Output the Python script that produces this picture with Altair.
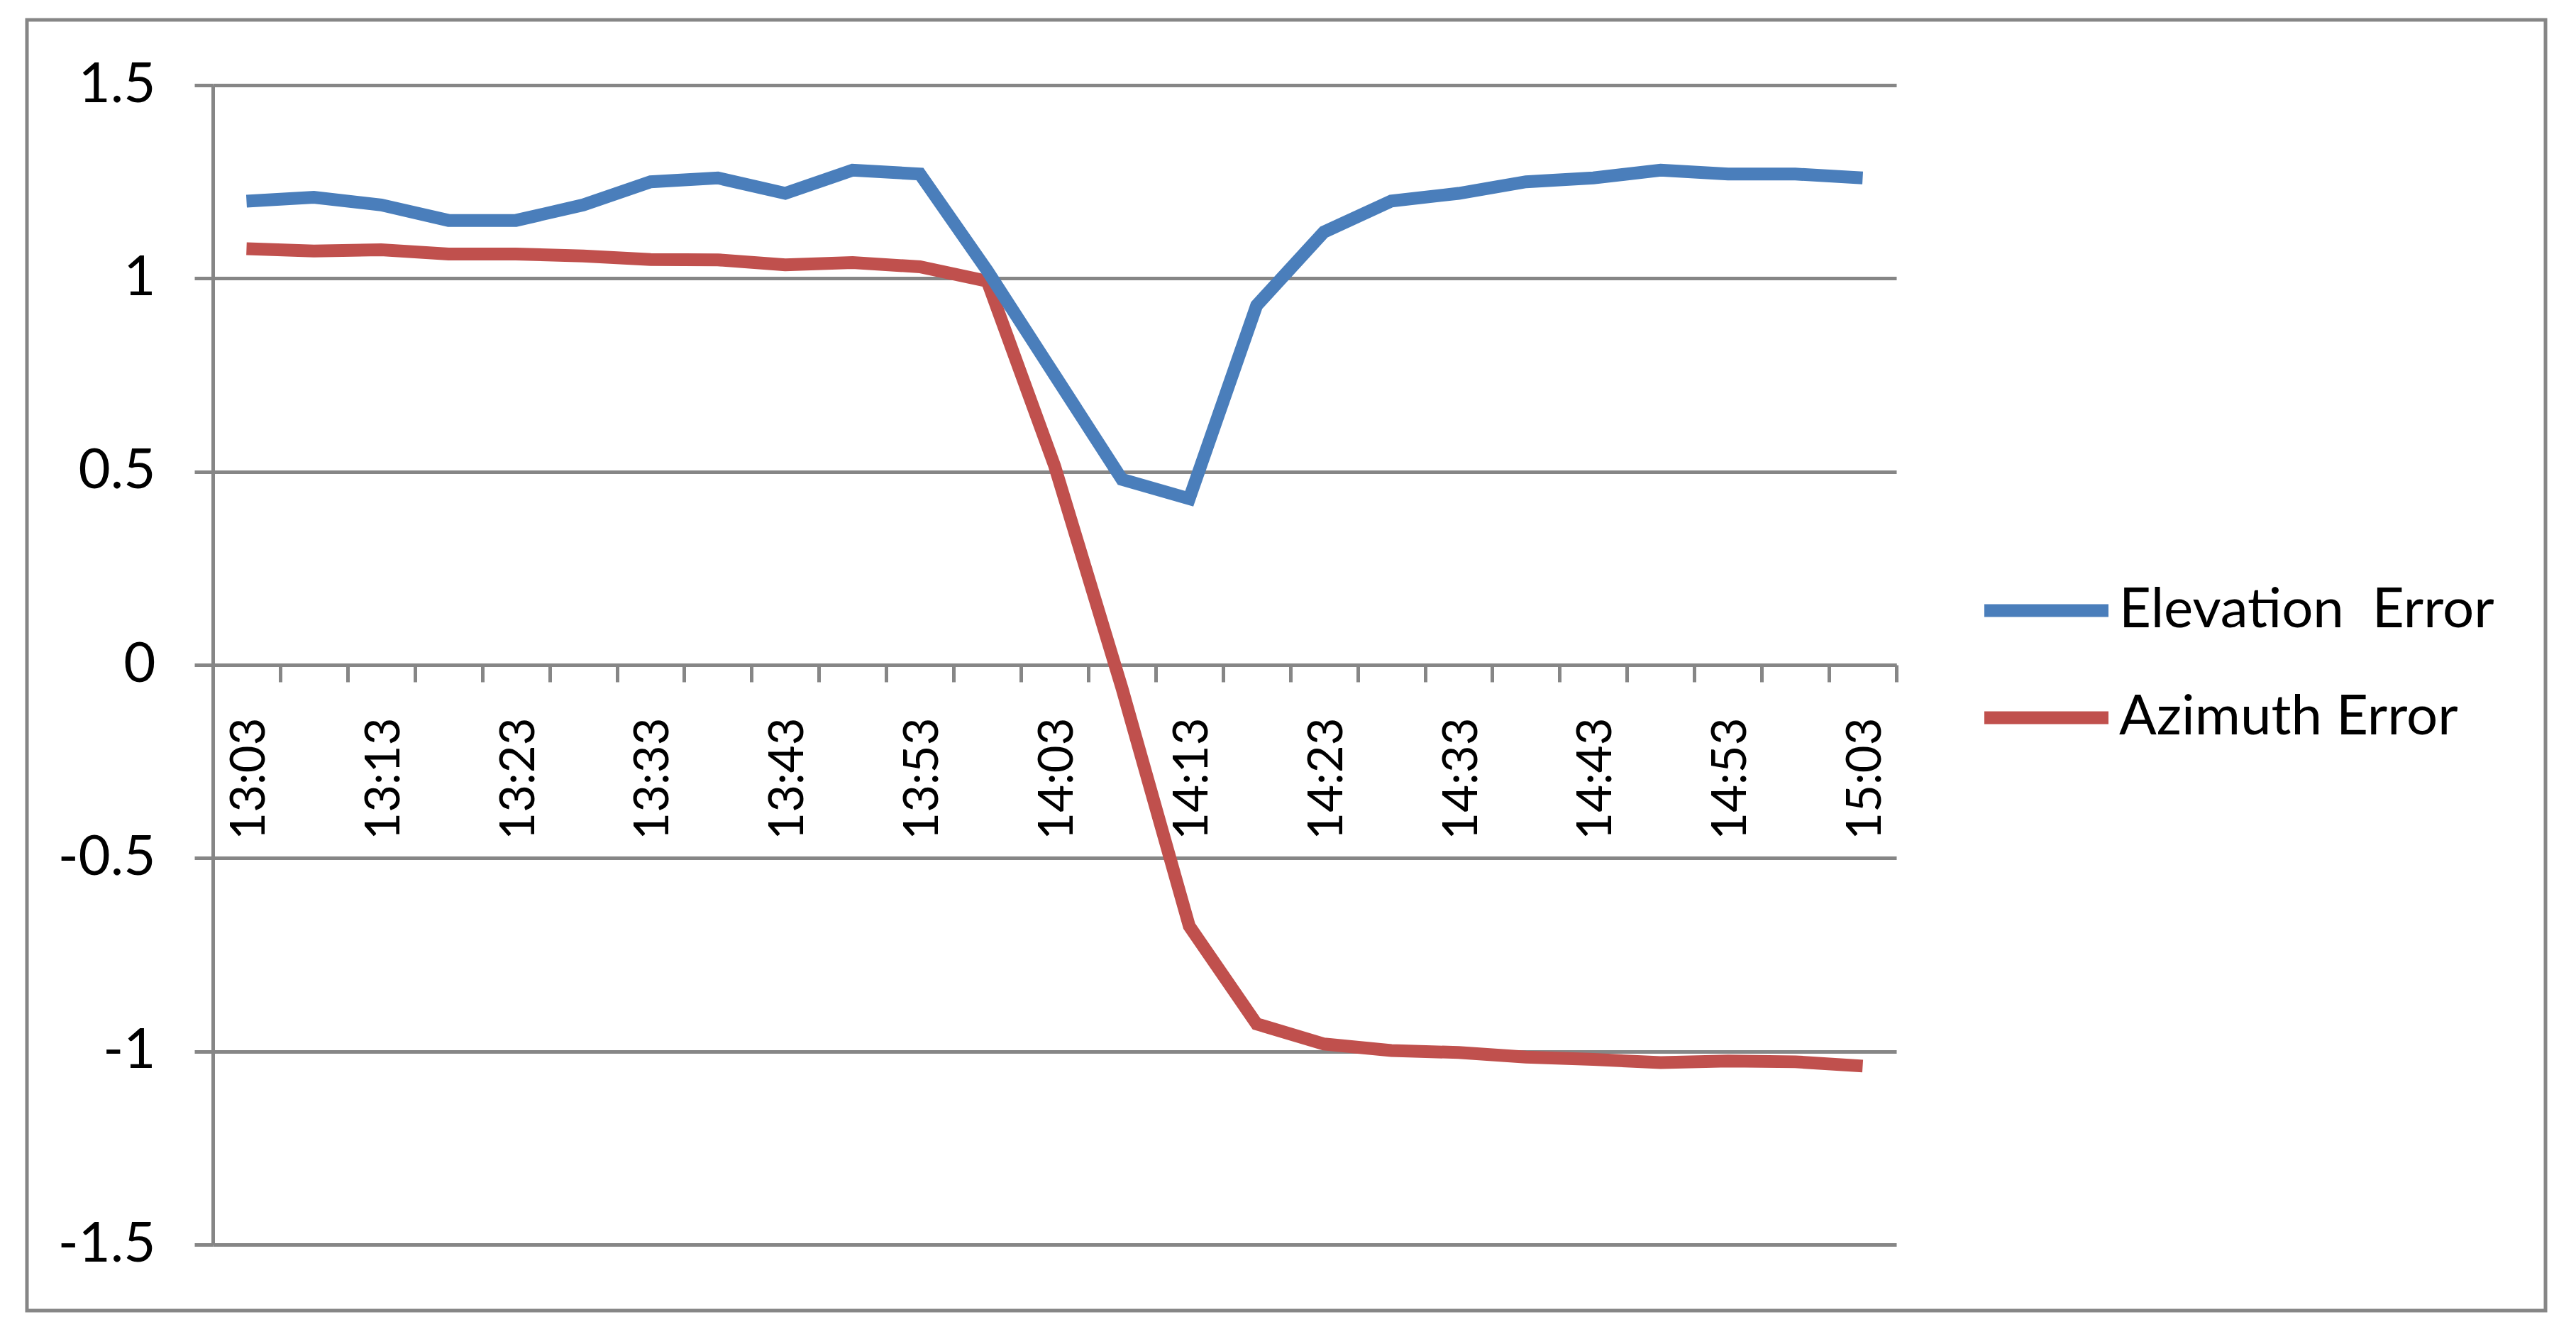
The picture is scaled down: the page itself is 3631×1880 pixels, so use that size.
import altair as alt
import pandas as pd

times = ["13:03", "13:08", "13:13", "13:18", "13:23", "13:28", "13:33", "13:38",
         "13:43", "13:48", "13:53", "13:58", "14:03", "14:08", "14:13", "14:18",
         "14:23", "14:28", "14:33", "14:38", "14:43", "14:48", "14:53", "14:58", "15:03"]
elevation = [1.20, 1.21, 1.19, 1.15, 1.15, 1.19, 1.25, 1.26, 1.22, 1.28, 1.27, 1.02,
             0.75, 0.48, 0.43, 0.93, 1.12, 1.20, 1.22, 1.25, 1.26, 1.28, 1.27, 1.27, 1.26]
azimuth = [1.077, 1.071, 1.074, 1.063, 1.063, 1.058, 1.049, 1.048, 1.035, 1.041, 1.030,
           0.993, 0.515, -0.06, -0.676, -0.929, -0.981, -0.998, -1.003, -1.015, -1.021,
           -1.029, -1.025, -1.027, -1.038]
series_names = ["Elevation\u00a0 Error", "Azimuth Error"]
series_colors = ["#4A7EBB", "#C0504D"]
y_ticks = [-1.5, -1.0, -0.5, 0.0, 0.5, 1.0, 1.5]

rows = []
for t, v in zip(times, azimuth):
    rows.append({"time": t, "err": v, "series": series_names[1]})
for t, v in zip(times, elevation):
    rows.append({"time": t, "err": v, "series": series_names[0]})
df = pd.DataFrame(rows)

GRAY = "#868686"
FONT = "Lato"
FS = 78
XFS = 67
W, H = 2373, 1634
STEP = W / len(times)

lines = alt.Chart(df).mark_line(strokeWidth=18).encode(
    x=alt.X("time:O", sort=times,
            scale=alt.Scale(padding=0.5),
            axis=alt.Axis(title=None, orient="bottom", offset=-H / 2,
                          tickOffset=STEP / 2, labelOffset=-STEP / 2 + 5,
                          tickSize=24, tickWidth=5, tickColor=GRAY, domainColor=GRAY,
                          domainWidth=5, labelAngle=-90, labelPadding=50, labelLimit=1000,
                          labelExpr="slice(datum.value, -1) == '3' ? datum.value : ''",
                          labelFontSize=XFS, labelFont=FONT, labelColor="#000000",
                          labelOverlap=False, grid=False)),
    y=alt.Y("err:Q",
            scale=alt.Scale(domain=[-1.5, 1.5], nice=False, zero=False),
            axis=alt.Axis(title=None, values=y_ticks, grid=True, gridColor=GRAY, gridWidth=5,
                          tickSize=26, tickWidth=5, tickColor=GRAY, domainColor=GRAY,
                          domainWidth=5, labelPadding=55, labelFontSize=FS, labelFont=FONT,
                          labelColor="#000000", labelExpr="toString(datum.value)")),
    color=alt.Color("series:N",
                    scale=alt.Scale(domain=series_names, range=series_colors),
                    legend=alt.Legend(title=None, orient="none", legendX=2488, legendY=665,
                                      symbolType="stroke", symbolSize=175 * 175,
                                      symbolStrokeWidth=18, labelFontSize=FS, labelFont=FONT,
                                      labelColor="#000000", labelOffset=6, labelLimit=1000,
                                      clipHeight=151, rowPadding=0, padding=0)),
)

frame = alt.Chart(pd.DataFrame({"a": [0]})).mark_rect(
    filled=False, stroke=GRAY, strokeWidth=5, clip=False
).encode(x=alt.value(-262), x2=alt.value(3288), y=alt.value(-92), y2=alt.value(1727))

chart = alt.layer(frame, lines).properties(
    width=W, height=H,
    autosize=alt.AutoSizeParams(type="none"),
    padding={"left": 292, "top": 112, "right": 940, "bottom": 110},
    background="#ffffff",
).configure_view(strokeOpacity=0)

chart.save("out.html", embed_options={"renderer": "svg", "actions": False})
